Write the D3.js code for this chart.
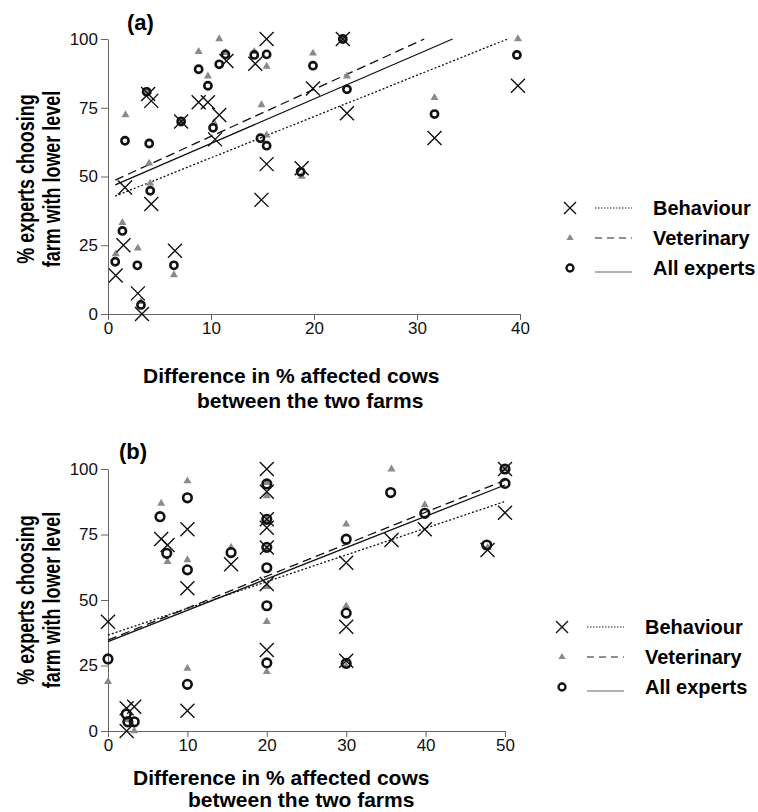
<!DOCTYPE html>
<html>
<head>
<meta charset="utf-8">
<script src="https://cdn.jsdelivr.net/npm/d3@7"></script>
<style>
  body { margin: 0; background: #fff; }
  text { font-family: "Liberation Sans", Arial, sans-serif; }
  .axis path, .axis line { stroke: #666; }
  .axis text { font-size: 17px; fill: #111; font-family: "Liberation Sans", Arial, sans-serif; }
</style>
</head>
<body>
<div id="chart"></div>
<script>
// ---- panel (a) data: [difference in % affected cows, % experts choosing] ----
var behaviourA = [[0.75,14],[1.5,25],[1.65,46],[2.9,7.5],[3.3,0],[3.9,80],[4.2,77.5],[4.2,40],
  [6.5,23],[7.1,70],[8.8,77],[9.7,77],[10.4,63.5],[10.8,72.4],[11.5,92],[14.3,91],[14.9,41.5],
  [15.4,100],[15.4,54.5],[18.8,53],[19.9,82],[22.8,100],[23.2,73],[31.7,64],[39.8,83]];
var veterinaryA = [[0.75,21.8],[1.4,33.2],[1.7,72.4],[2.9,23.9],[3.2,4.5],[3.9,81],[4.0,54.8],
  [4.1,47.5],[6.4,14.2],[7.1,69.6],[8.8,95.4],[9.7,86.5],[10.3,69.6],[10.8,100],[11.4,95],
  [14.2,95.4],[14.9,76],[15.4,90],[15.4,65],[18.8,50],[19.9,94.8],[22.8,100],[23.2,86.5],
  [31.7,78.7],[39.8,100]];
var allA = [[0.7,19],[1.4,30.2],[1.65,63],[2.85,17.7],[3.2,3.3],[3.75,80.8],[4.0,62],[4.1,44.8],
  [6.4,17.7],[7.1,70],[8.8,89],[9.7,83],[10.2,67.7],[10.8,90.8],[11.4,94.4],[14.2,94.2],
  [14.8,63.9],[15.4,94.4],[15.4,61.2],[18.7,51.7],[19.9,90.3],[22.8,100],[23.2,81.7],
  [31.7,72.7],[39.7,94.2]];

// ---- panel (b) data ----
var behaviourB = [[0,41.7],[2.35,8.7],[3.3,9.3],[2.35,0],[6.7,73.3],[7.5,71],[10,77],[10,54.5],
  [10,7.7],[15.5,63.6],[20,100],[20,91.3],[20,80.8],[20,77.6],[20,70],[20,56.1],[20,30.9],
  [30,64.2],[30,39.8],[30,26.8],[35.7,72.9],[39.9,77],[47.8,69.1],[50,83.3],[50,100]];
var veterinaryB = [[0,18.8],[2.4,4.2],[3.3,0],[6.7,86.9],[7.5,64.6],[10,95.4],[10,65.3],[10,23.9],
  [15.5,70.1],[20,94.8],[20,89.7],[20,80.5],[20,69.7],[20,55.1],[20,41.7],[20,22.6],
  [30,78.9],[30,47.7],[30,24.8],[35.7,99.9],[39.9,86.3],[47.8,70],[50,100]];
var allB = [[0,27.5],[2.3,6.5],[2.5,3.5],[3.3,3.5],[6.55,81.8],[7.4,67.8],[10,89],[10,61.5],
  [10,17.8],[15.5,68.1],[20,94.3],[20,80.8],[20,70.1],[20,62.3],[20,47.8],[20,26],
  [30,73.2],[30,45],[30,25.8],[35.6,91],[39.9,83.1],[47.7,71],[50,94.5],[50,100]];

// fitted lines: [intercept, slope], order behaviour, veterinary, all
var fitA = [[41.8, 1.50], [47.5, 1.71], [45.8, 1.62]];
var fitB = [[36.6, 1.02], [34.7, 1.22], [34.1, 1.196]];

var seriesNames = ["Behaviour", "Veterinary", "All experts"];
var yTicks = [0, 25, 50, 75, 100];
var xTicksA = [0, 10, 20, 30, 40];
var xTicksB = [0, 10, 20, 30, 40, 50];

var W = 758, H = 812;
var svg = d3.select("#chart").append("svg").attr("width", W).attr("height", H);

var dashes = ["2,2", "9,5", null];

function drawMarker(g, type, x, y, r) {
  if (type == 0) {
    g.append("path")
      .attr("d", "M" + (x - r) + "," + (y - r) + "L" + (x + r) + "," + (y + r) +
                 "M" + (x - r) + "," + (y + r) + "L" + (x + r) + "," + (y - r))
      .attr("stroke", "#111").attr("stroke-width", 1.4).attr("fill", "none");
  }
  else if (type == 1) {
    g.append("path")
      .attr("d", d3.symbol().type(d3.symbolTriangle).size(r)())
      .attr("transform", "translate(" + x + "," + y + ")")
      .attr("fill", "#8a8a8a");
  }
  else {
    g.append("circle").attr("cx", x).attr("cy", y).attr("r", r)
      .attr("fill", "none").attr("stroke", "#111").attr("stroke-width", 2.6);
  }
}

function panel(opt) {
  var x = d3.scaleLinear().domain([0, opt.xMax]).range([opt.left, opt.right]);
  var y = d3.scaleLinear().domain([0, 100]).range([opt.bottom, opt.top]);
  var g = svg.append("g");

  g.append("g").attr("class", "axis")
    .attr("transform", "translate(0," + opt.bottom + ")")
    .call(d3.axisBottom(x).tickValues(opt.xTicks).tickSize(6).tickSizeOuter(0).tickPadding(2));
  g.append("g").attr("class", "axis")
    .attr("transform", "translate(" + opt.left + ",0)")
    .call(d3.axisLeft(y).tickValues(yTicks).tickSize(7).tickSizeOuter(0).tickPadding(3));

  // fit lines
  opt.fit.forEach(function (f, i) {
    var x0 = opt.fitStart, x1 = Math.min(opt.xMax, (100 - f[0]) / f[1]);
    g.append("line")
      .attr("x1", x(x0)).attr("y1", y(f[0] + f[1] * x0))
      .attr("x2", x(x1)).attr("y2", y(f[0] + f[1] * x1))
      .attr("stroke", "#111").attr("stroke-width", 1.3)
      .attr("stroke-dasharray", dashes[i]);
  });

  // points: veterinary first, then circles, then crosses on top
  opt.vet.forEach(function (d) { drawMarker(g, 1, x(d[0]), y(d[1]), 28); });
  opt.all.forEach(function (d) { drawMarker(g, 2, x(d[0]), y(d[1]), opt.circleR); });
  opt.beh.forEach(function (d) { drawMarker(g, 0, x(d[0]), y(d[1]), 7); });

  // panel label
  g.append("text").attr("x", opt.labelX).attr("y", opt.labelY)
    .attr("font-size", 22).attr("font-weight", "bold").text(opt.label);

  // y title (narrowed)
  var yt = g.append("text")
    .attr("transform", "translate(44," + opt.yTitleY + ") rotate(-90) scale(0.78,1)")
    .attr("text-anchor", "middle").attr("font-size", 23).attr("font-weight", "bold");
  yt.append("tspan").attr("x", 0).attr("dy", "-0.42em").text("% experts choosing");
  yt.append("tspan").attr("x", 0).attr("dy", "1.1em").text("farm with lower level");

  // x title
  g.append("text").attr("x", opt.xt[0]).attr("y", opt.xt[1])
    .attr("font-size", 21).attr("font-weight", "bold").text("Difference in % affected cows");
  g.append("text").attr("x", opt.xt[2]).attr("y", opt.xt[3])
    .attr("font-size", 21).attr("font-weight", "bold").text("between the two farms");

  // legend
  var lg = g.append("g");
  seriesNames.forEach(function (name, i) {
    var ly = opt.legY + i * 30;
    if (i == 0) drawMarker(lg, 0, opt.legX, ly, 6);
    else if (i == 1) drawMarker(lg, 1, opt.legX, ly, 22);
    else {
      lg.append("circle").attr("cx", opt.legX).attr("cy", ly).attr("r", 3.5)
        .attr("fill", "none").attr("stroke", "#111").attr("stroke-width", 2.3);
    }
    lg.append("line")
      .attr("x1", opt.legX + 25).attr("x2", opt.legX + 62)
      .attr("y1", ly + (i == 2 ? 4 : 0)).attr("y2", ly + (i == 2 ? 4 : 0))
      .attr("stroke", i == 2 ? "#999" : "#222").attr("stroke-width", i == 2 ? 1.4 : 1.2)
      .attr("stroke-dasharray", i == 0 ? "1.5,1.5" : (i == 1 ? "7,5" : null));
    lg.append("text").attr("x", opt.legX + 83).attr("y", ly + 7)
      .attr("font-size", 20).attr("font-weight", "bold").text(name);
  });
}

panel({
  xMax: 40, left: 108, right: 520, top: 39, bottom: 314,
  xTicks: xTicksA, fit: fitA, fitStart: 0.7,
  beh: behaviourA, vet: veterinaryA, all: allA, circleR: 3.6,
  label: "(a)", labelX: 127, labelY: 30,
  xt: [143, 383, 197, 408], yTitleY: 179,
  legX: 570, legY: 208
});

panel({
  xMax: 50, left: 108, right: 505, top: 469, bottom: 731,
  xTicks: xTicksB, fit: fitB, fitStart: 0,
  beh: behaviourB, vet: veterinaryB, all: allB, circleR: 4.3,
  label: "(b)", labelX: 119, labelY: 459,
  xt: [133, 785, 188, 807], yTitleY: 600,
  legX: 562, legY: 627
});
</script>
</body>
</html>
